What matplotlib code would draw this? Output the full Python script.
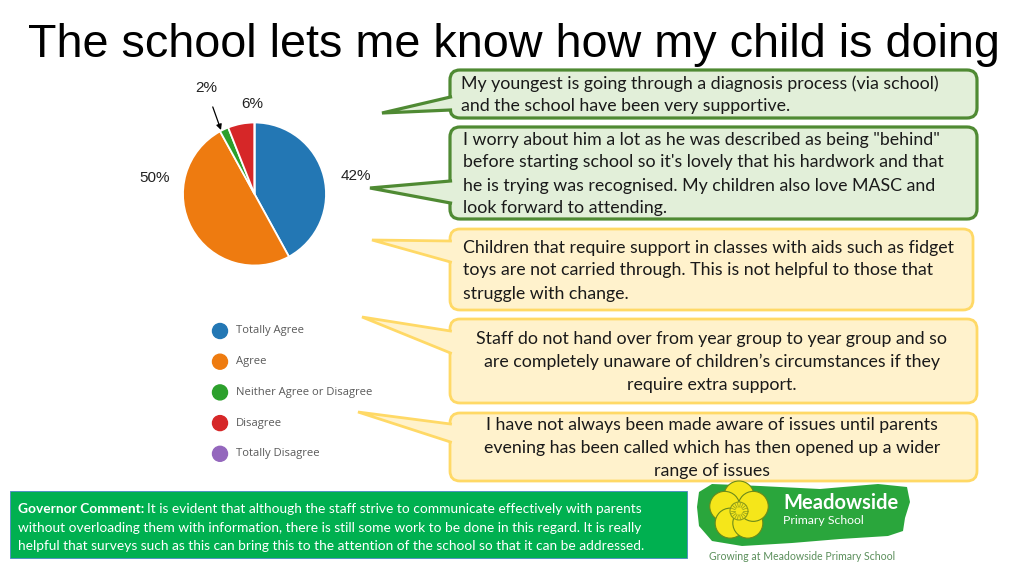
import matplotlib
matplotlib.use("Agg")
import matplotlib.pyplot as plt
from matplotlib.patches import FancyBboxPatch, Polygon, Circle, Ellipse
import numpy as np

# survey data
categories = ["Totally Agree", "Agree", "Neither Agree or Disagree", "Disagree", "Totally Disagree"]
percentages = [42, 50, 2, 6, 0]
colors = ["#2377b4", "#ee7b10", "#2ca02c", "#d62728", "#9467bd"]

title = "The school lets me know how my child is doing"

comments = [
    "My youngest is going through a diagnosis process (via school)\nand the school have been very supportive.",
    "I worry about him a lot as he was described as being \"behind\"\nbefore starting school so it's lovely that his hardwork and that\n"
    "he is trying was recognised. My children also love MASC and\nlook forward to attending.",
    "Children that require support in classes with aids such as fidget\ntoys are not carried through. This is not helpful to those that\n"
    "struggle with change.",
    "Staff do not hand over from year group to year group and so\nare completely unaware of children\u2019s circumstances if they\n"
    "require extra support.",
    "I have not always been made aware of issues until parents\nevening has been called which has then opened up a wider\n"
    "range of issues",
]
comment_tone = ["positive", "positive", "negative", "negative", "negative"]

governor_lines = [
    "It is evident that although the staff strive to communicate effectively with parents",
    "without overloading them with information, there is still some work to be done in this regard. It is really",
    "helpful that surveys such as this can bring this to the attention of the school so that it can be addressed.",
]

W, H = 1024, 576
fig = plt.figure(figsize=(W / 100, H / 100), dpi=100)
fig.patch.set_facecolor("white")

# background axes in pixel units
bg = fig.add_axes([0, 0, 1, 1])
bg.set_xlim(0, W)
bg.set_ylim(H, 0)
bg.axis("off")

bg.text(28, 57, title, fontsize=33.7, family="Liberation Sans", va="baseline", ha="left", color="black")

# ---- pie ----
cx, cy, r = 254.5, 194, 71.5
pad = 1.1
pie_ax = fig.add_axes([(cx - r * pad) / W, (H - cy - r * pad) / H, 2 * r * pad / W, 2 * r * pad / H])
pie_ax.pie(percentages, colors=colors, startangle=90, counterclock=False, radius=1,
           wedgeprops=dict(edgecolor="white", linewidth=1.3))
pie_ax.set_xlim(-pad, pad)
pie_ax.set_ylim(-pad, pad)
pie_ax.axis("off")

lab_font = dict(fontsize=11, family="Liberation Sans", color="#222222", ha="center", va="center")
bg.text(356, 176, f"{percentages[0]}%", **lab_font)
bg.text(155, 178, f"{percentages[1]}%", **lab_font)
bg.text(252, 104, f"{percentages[3]}%", **lab_font)
bg.annotate(f"{percentages[2]}%", xy=(221, 130), xytext=(206, 88), ha="center", va="center",
            fontsize=11, family="Liberation Sans", color="#222222",
            arrowprops=dict(arrowstyle="-|>", color="black", lw=0.9, shrinkA=7, shrinkB=0,
                            mutation_scale=8))

# ---- legend ----
leg_y0, leg_dy = 331, 30.7
for i, (cat, col) in enumerate(zip(categories, colors)):
    y = leg_y0 + i * leg_dy
    bg.add_patch(Circle((220, y), 7.5, color=col))
    bg.text(236, y, cat, fontsize=8.1, family="Open Sans", color="#5a5a5a", va="center", ha="left")

# ---- callout boxes ----
boxes = [(450, 70, 527, 48), (450, 127, 527, 92), (450, 229, 523, 81), (450, 319, 527, 84), (450, 413, 527, 68)]
tails = [((382, 113), 97, 110), ((370, 188), 181, 203), ((372, 240), 241, 262),
         ((362, 317), 331, 353), ((358, 412), 424, 442)]
text_pos = [(461, "left"), (463, "left"), (463, "left"), (712, "center"), (712, "center")]
styles = {"positive": ("#e2efd9", "#4f8a33", 2.3), "negative": ("#fff2cc", "#ffd966", 2.0)}

for txt, tone, (bx, by, bw, bh), (tip, y1, y2), (tx, ha) in zip(comments, comment_tone, boxes, tails, text_pos):
    fc, ec, lw = styles[tone]
    bg.add_patch(FancyBboxPatch((bx, by), bw, bh, boxstyle="round,pad=0,rounding_size=10",
                                facecolor=fc, edgecolor=ec, linewidth=lw, zorder=2))
    bg.add_patch(Polygon([(bx, y1), tip, (bx, y2), (bx + 5, y2), (bx + 5, y1)], closed=True,
                         facecolor=fc, edgecolor="none", zorder=3))
    bg.plot([bx + 0.5, tip[0], bx + 0.5], [y1, tip[1], y2], color=ec, lw=lw, zorder=4,
            solid_joinstyle="miter")
    n = txt.count("\n") + 1
    y_first = by + bh / 2 - (n - 1) * 23 / 2 + 1
    for k, line in enumerate(txt.split("\n")):
        bg.text(tx, y_first + k * 23, line, fontsize=12.8, family="Lato", color="#1a1a1a",
                ha=ha, va="center", zorder=5)

# ---- governor comment ----
bg.add_patch(FancyBboxPatch((10, 491), 677, 67, boxstyle="square,pad=0", facecolor="#00b050",
                            edgecolor="#4a86c5", linewidth=0.6, zorder=2))
gy = [509, 527.5, 546]
gfs = 9.9
lab = bg.text(18, gy[0], "Governor Comment:", fontsize=gfs, family="Lato", weight="bold",
              color="white", va="center", ha="left", zorder=3)
fig.canvas.draw()
ext = lab.get_window_extent()
x_after = 18 + ext.width + 3
bg.text(x_after, gy[0], governor_lines[0], fontsize=gfs, family="Lato", color="white",
        va="center", ha="left", zorder=3)
for y, line in zip(gy[1:], governor_lines[1:]):
    bg.text(18, y, line, fontsize=gfs, family="Lato", color="white", va="center", ha="left", zorder=3)

# ---- school logo ----
blob = [(699, 492), (712, 484), (760, 486), (820, 489), (878, 484), (907, 487), (910, 502),
        (905, 518), (903, 531), (888, 536), (840, 539), (792, 543), (742, 546), (712, 541),
        (699, 526), (697, 507)]
bg.add_patch(Polygon(blob, closed=True, facecolor="#2aa63c", edgecolor="none", zorder=2))
fx, fy = 739, 511
for a in np.deg2rad(np.arange(90, 450, 72)):
    bg.add_patch(Ellipse((fx + 15 * np.cos(a), fy - 15 * np.sin(a)), 30, 30, facecolor="#f5e61a",
                         edgecolor="#6b8a1a", linewidth=0.8, zorder=3))
bg.add_patch(Circle((fx, fy), 9, facecolor="#f5e61a", edgecolor="#8a9a1a", linewidth=0.8, zorder=4))
for a in np.deg2rad(np.arange(0, 360, 20)):
    bg.plot([fx + 4 * np.cos(a), fx + 8.5 * np.cos(a)], [fy + 4 * np.sin(a), fy + 8.5 * np.sin(a)],
            color="#8a9a1a", lw=0.5, zorder=5)
bg.text(783, 503, "Meadowside", fontsize=14.5, family="Lato", weight="bold", color="white",
        va="center", ha="left", zorder=5)
bg.text(783, 521, "Primary School", fontsize=8.8, family="Lato", color="white",
        va="center", ha="left", zorder=5)
bg.text(802, 556, "Growing at Meadowside Primary School", fontsize=7.6, family="Lato",
        color="#5b8f5b", va="center", ha="center", zorder=5)

fig.savefig("out.png", dpi=100, facecolor="white")
